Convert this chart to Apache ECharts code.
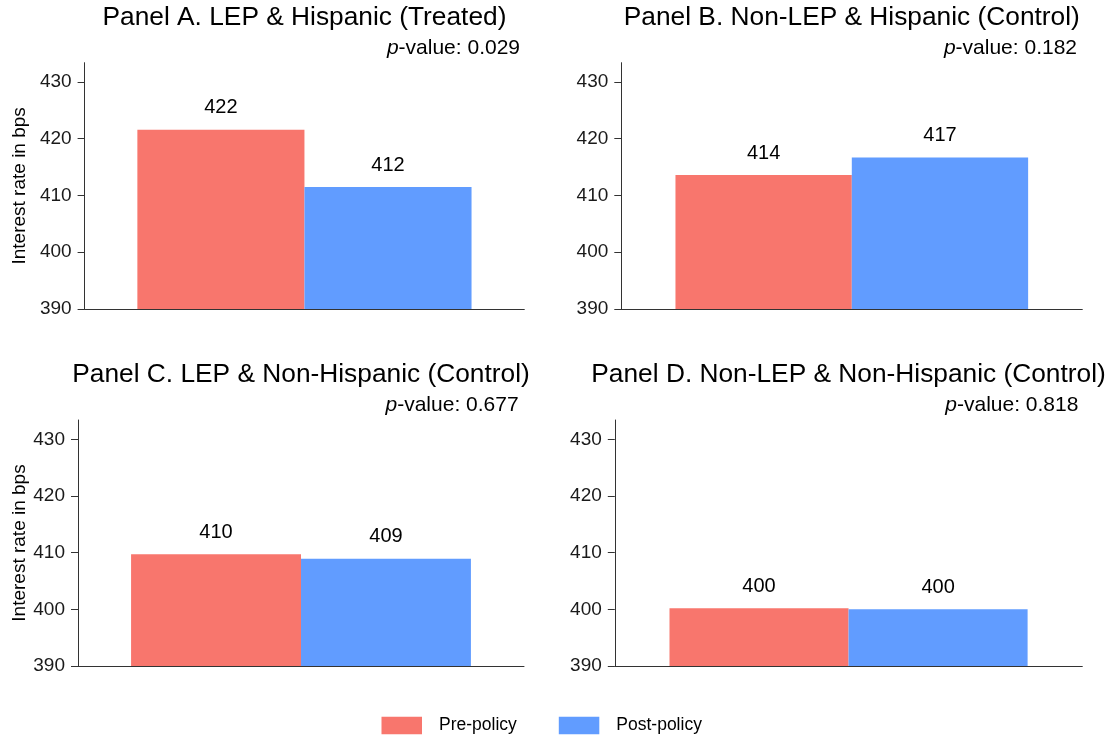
<!DOCTYPE html>
<html>
<head>
<meta charset="utf-8">
<script src="https://cdn.jsdelivr.net/npm/echarts@6/dist/echarts.min.js"></script>
<style>
html,body{margin:0;padding:0;background:#fff;}
#chart{width:1114px;height:740px;}
</style>
</head>
<body>
<div id="chart"></div>
<script>
const panelTitles = [
  'Panel A. LEP & Hispanic (Treated)',
  'Panel B. Non-LEP & Hispanic (Control)',
  'Panel C. LEP & Non-Hispanic (Control)',
  'Panel D. Non-LEP & Non-Hispanic (Control)'
];
const pValues = ['0.029', '0.182', '0.677', '0.818'];
const prePolicy = [421.6, 413.6, 409.7, 400.2];
const postPolicy = [411.5, 416.7, 408.9, 400.0];
const yTicks = [390, 400, 410, 420, 430];
const seriesNames = ['Pre-policy', 'Post-policy'];
const yAxisName = 'Interest rate in bps';
const categories = [''];

const FONT = '"Liberation Sans", Arial, sans-serif';
const colors = ['#F8766D', '#619CFF'];
const gridBoxes = [
  {left: 84.6, top: 62.7, width: 439.7, height: 246.3},
  {left: 621.3, top: 62.7, width: 461, height: 246.3},
  {left: 78, top: 420, width: 446, height: 246},
  {left: 614.8, top: 420, width: 467.5, height: 246}
];
const catGaps = ['24%', '23.5%', '23.8%', '23.4%'];
const pRights = [594, 37, 595.4, 35.6];
const nameGaps = [55.4, null, 48.5, null];

const chart = echarts.init(document.getElementById('chart'), null, {renderer: 'canvas'});

const titles = [];
panelTitles.forEach((t, i) => {
  const g = gridBoxes[i];
  titles.push({
    text: t,
    left: g.left + g.width / 2,
    top: i < 2 ? 5 : 362,
    textAlign: 'center',
    padding: 0,
    textStyle: {fontFamily: FONT, fontSize: 26.3, fontWeight: 'normal', color: '#000'}
  });
  titles.push({
    text: '{i|p}-value: ' + pValues[i],
    right: pRights[i],
    top: i < 2 ? 38 : 395,
    padding: 0,
    textStyle: {
      fontFamily: FONT, fontSize: 21, fontWeight: 'normal', color: '#000',
      rich: {i: {fontFamily: FONT, fontSize: 21, fontStyle: 'italic', color: '#000'}}
    }
  });
});

const grids = gridBoxes.map(g => ({left: g.left, top: g.top, width: g.width, height: g.height, containLabel: false}));

const xAxes = gridBoxes.map((g, i) => ({
  type: 'category',
  gridIndex: i,
  data: categories,
  axisLine: {show: true, lineStyle: {color: '#333', width: 1}},
  axisTick: {show: false},
  axisLabel: {show: false},
  splitLine: {show: false}
}));

const yAxes = gridBoxes.map((g, i) => ({
  type: 'value',
  gridIndex: i,
  min: 390,
  max: 433.4,
  name: nameGaps[i] ? yAxisName : '',
  nameLocation: 'middle',
  nameRotate: 90,
  nameGap: nameGaps[i] || 0,
  nameTextStyle: {fontFamily: FONT, fontSize: 19, color: '#000'},
  axisLine: {show: true, lineStyle: {color: '#333', width: 1}},
  axisTick: {show: true, length: 7, customValues: yTicks, lineStyle: {color: '#333'}},
  axisLabel: {show: true, customValues: yTicks, margin: 13, fontFamily: FONT, fontSize: 19, color: '#1a1a1a'},
  splitLine: {show: false}
}));

const series = [];
gridBoxes.forEach((g, i) => {
  [prePolicy, postPolicy].forEach((arr, k) => {
    series.push({
      type: 'bar',
      name: seriesNames[k],
      xAxisIndex: i,
      yAxisIndex: i,
      data: [arr[i]],
      barGap: '0%',
      barCategoryGap: catGaps[i],
      itemStyle: {color: colors[k]},
      label: {
        show: true,
        position: 'top',
        distance: 12,
        fontFamily: FONT,
        fontSize: 20,
        color: '#000',
        formatter: p => Math.round(p.value)
      },
      emphasis: {disabled: true},
      animation: false
    });
  });
});

chart.setOption({
  backgroundColor: '#fff',
  animation: false,
  title: titles,
  grid: grids,
  xAxis: xAxes,
  yAxis: yAxes,
  legend: {
    data: seriesNames,
    left: 381.5,
    top: 716.5,
    icon: 'rect',
    itemWidth: 40.5,
    itemHeight: 17.3,
    itemGap: 42,
    padding: 0,
    textStyle: {fontFamily: FONT, fontSize: 17.5, color: '#000', padding: [0, 0, 0, 12]}
  },
  series: series
});
</script>
</body>
</html>
